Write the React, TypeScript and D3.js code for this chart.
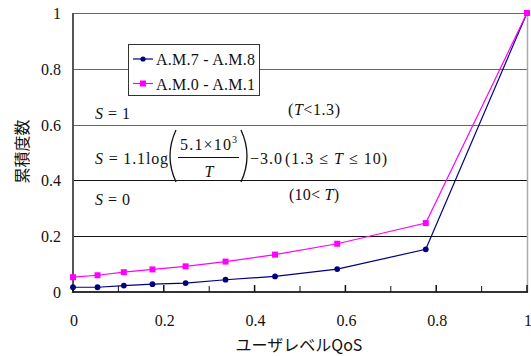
import React from "react";
import * as d3 from "d3";

// User-level QoS values (x) and cumulative frequencies for each time band
const qos = [0, 0.054, 0.112, 0.175, 0.248, 0.336, 0.445, 0.582, 0.777, 1.0];
const am78 = [0.017, 0.017, 0.023, 0.028, 0.032, 0.044, 0.056, 0.082, 0.153, 1.0];
const am01 = [0.053, 0.06, 0.071, 0.081, 0.092, 0.109, 0.134, 0.173, 0.247, 1.0];

const seriesNames = ["A.M.7 - A.M.8", "A.M.0 - A.M.1"];
const seriesColors = ["#000080", "#ff00ff"];

const yTicks = [0, 0.2, 0.4, 0.6, 0.8, 1];
const xMajorTicks = [0, 0.2, 0.4, 0.6, 0.8, 1];
const xMinorTicks = [0.1, 0.3, 0.5, 0.7, 0.9];

const W = 531;
const H = 356;
const left = 73;
const right = 527;
const top = 13;
const bottom = 292;

const serif = '"Liberation Serif", "Times New Roman", Times, serif';
const cjk = '"Noto Sans CJK JP", "Noto Sans", sans-serif';

export default function App() {
  const x = d3.scaleLinear().domain([0, 1]).range([left, right]);
  const y = d3.scaleLinear().domain([0, 1]).range([bottom, top]);

  const line = d3
    .line<number>()
    .x((_, i) => x(qos[i]))
    .y((d) => y(d));

  const fmt = (v: number) => (v === 0 || v === 1 ? String(v) : v.toFixed(1));
  const ser = { fontFamily: serif };

  return (
    <svg
      width={W}
      height={H}
      style={{ position: "absolute", left: 0, top: 0, background: "#fff", fontFamily: serif }}
    >
      <rect width={W} height={H} fill="#fff" />

      {/* horizontal grid */}
      {yTicks.slice(1).map((t) => (
        <line
          key={t}
          x1={left}
          x2={right}
          y1={Math.round(y(t)) + 0.5}
          y2={Math.round(y(t)) + 0.5}
          stroke={t >= 0.6 ? "#666" : "#111"}
          strokeWidth={1}
        />
      ))}

      {/* right frame edge */}
      <line x1={right + 0.5} x2={right + 0.5} y1={top} y2={bottom} stroke="#aaa" strokeWidth={1.5} />

      {/* left axis */}
      <line x1={left} x2={left} y1={top} y2={bottom + 1} stroke="#555" strokeWidth={2} />

      {/* bottom axis + ticks */}
      <line x1={left - 1} x2={right + 1} y1={bottom} y2={bottom} stroke="#333" strokeWidth={2} />
      {xMajorTicks.map((t) => (
        <line key={"M" + t} x1={x(t)} x2={x(t)} y1={bottom} y2={bottom - 7} stroke="#111" strokeWidth={1.5} />
      ))}
      {xMinorTicks.map((t) => (
        <line key={"m" + t} x1={x(t)} x2={x(t)} y1={bottom} y2={bottom - 6} stroke="#111" strokeWidth={1} />
      ))}

      {/* tick labels */}
      {yTicks.map((t) => (
        <text key={"y" + t} x={61} y={y(t) + 6} fontSize={16} textAnchor="end" fill="#111" style={ser}>
          {fmt(t)}
        </text>
      ))}
      {xMajorTicks.map((t) => (
        <text key={"x" + t} x={x(t) + 1} y={326} fontSize={16} textAnchor="middle" fill="#111" style={ser}>
          {fmt(t)}
        </text>
      ))}

      {/* axis titles */}
      <text x={299} y={351} fontSize={16} textAnchor="middle" fill="#111" style={{ fontFamily: cjk }}>
        ユーザレベルQoS
      </text>
      <text
        transform="translate(28,151.5) rotate(-90)"
        fontSize={16}
        textAnchor="middle"
        fill="#111"
        style={{ fontFamily: cjk }}
      >
        累積度数
      </text>

      {/* series */}
      {[am78, am01].map((vals, si) => (
        <g key={si}>
          <path d={line(vals) ?? ""} fill="none" stroke={seriesColors[si]} strokeWidth={1.2} />
          {vals.map((v, i) =>
            si === 0 ? (
              <circle key={i} cx={x(qos[i])} cy={y(v)} r={2.9} fill={seriesColors[si]} />
            ) : (
              <rect key={i} x={x(qos[i]) - 3} y={y(v) - 3} width={6} height={6} fill={seriesColors[si]} />
            )
          )}
        </g>
      ))}

      {/* legend */}
      <rect x={128.5} y={44.5} width={131} height={51} fill="#fff" stroke="#333" strokeWidth={1} />
      {seriesNames.map((name, i) => {
        const ly = 59 + i * 24.5;
        return (
          <g key={name}>
            <line x1={133} x2={153} y1={ly} y2={ly} stroke={seriesColors[i]} strokeWidth={1.2} />
            {i === 0 ? (
              <circle cx={143} cy={ly} r={2.6} fill={seriesColors[i]} />
            ) : (
              <rect x={140} y={ly - 3} width={6} height={6} fill={seriesColors[i]} />
            )}
            <text x={156} y={ly + 6} fontSize={16} fill="#111" style={ser} textLength={99} lengthAdjust="spacing">
              {name}
            </text>
          </g>
        );
      })}

      {/* scoring rule annotations */}
      <g fontSize={16} fill="#111" style={ser}>
        <text x={95} y={119} textLength={35} lengthAdjust="spacing">
          <tspan fontStyle="italic">S</tspan>
          <tspan> = 1</tspan>
        </text>
        <text x={288} y={115} textLength={52} lengthAdjust="spacing">
          (<tspan fontStyle="italic">T</tspan>&lt;1.3)
        </text>

        <text x={95} y={163.5} textLength={73} lengthAdjust="spacing">
          <tspan fontStyle="italic">S</tspan>
          <tspan> = 1.1log</tspan>
        </text>
        <path d="M176,130 Q164,156 176,182" fill="none" stroke="#111" strokeWidth={1.3} />
        <text x={180} y={150} textLength={51} lengthAdjust="spacing">
          5.1×10
        </text>
        <text x={232} y={143} fontSize={10}>
          3
        </text>
        <line x1={178} x2={239} y1={157.5} y2={157.5} stroke="#111" strokeWidth={1} />
        <text x={209} y={177} fontStyle="italic" textAnchor="middle">
          T
        </text>
        <path d="M241,130 Q253,156 241,182" fill="none" stroke="#111" strokeWidth={1.3} />
        <text x={250} y={163.5} textLength={32} lengthAdjust="spacing">
          −3.0
        </text>
        <text x={285} y={163.5} textLength={102} lengthAdjust="spacing">
          (1.3 ≤ <tspan fontStyle="italic">T</tspan> ≤ 10)
        </text>

        <text x={95} y={205} textLength={35} lengthAdjust="spacing">
          <tspan fontStyle="italic">S</tspan>
          <tspan> = 0</tspan>
        </text>
        <text x={289} y={200} textLength={50} lengthAdjust="spacing">
          (10&lt; <tspan fontStyle="italic">T</tspan>)
        </text>
      </g>
    </svg>
  );
}
